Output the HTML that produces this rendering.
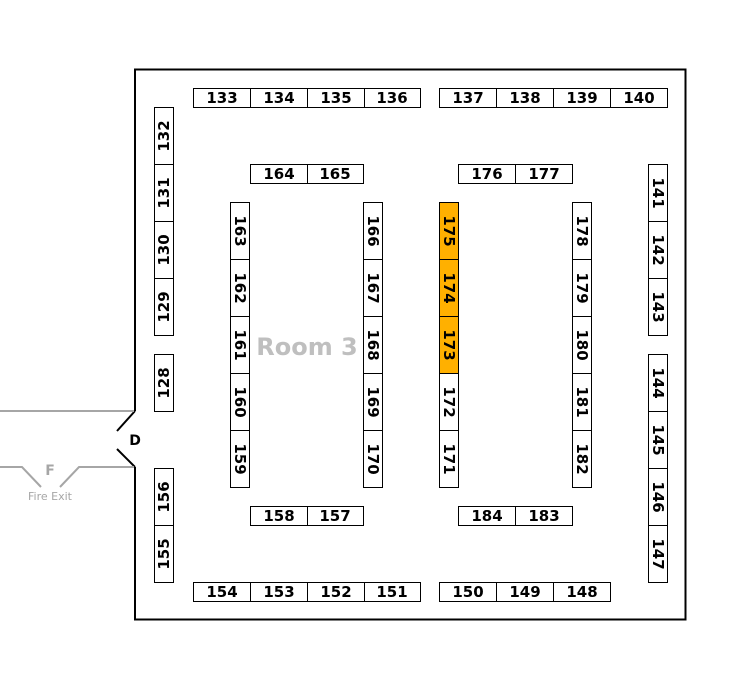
<!DOCTYPE html>
<html><head><meta charset="utf-8"><style>
html,body{margin:0;padding:0;background:#fff;width:755px;height:689px;overflow:hidden}
svg text{font-family:"DejaVu Sans","Liberation Sans",sans-serif;}
.b rect{fill:#fff;stroke:#000;stroke-width:1}
.b text{font-size:15px;font-weight:bold;fill:#000;text-anchor:middle;dominant-baseline:central}
.o rect{fill:#FFB000}
</style></head><body>
<svg width="755" height="689" viewBox="0 0 755 689" xmlns="http://www.w3.org/2000/svg">
<path d="M135 411 L135 69.5 L685.5 69.5 L685.5 619.5 L135 619.5 L135 467" fill="none" stroke="#000" stroke-width="2"/>
<path d="M135 411 L117 431 M117 449 L135 467" fill="none" stroke="#000" stroke-width="2"/>
<text x="135" y="445" font-size="14" font-weight="bold" text-anchor="middle">D</text>
<path d="M0 411 L134 411 M0 467 L22 467 L41 487 M60 487 L79 467 L134 467" fill="none" stroke="#a6a6a6" stroke-width="2"/>
<text x="50" y="475" font-size="14" font-weight="bold" fill="#a6a6a6" text-anchor="middle">F</text>
<text x="50" y="500" font-size="11" fill="#a6a6a6" text-anchor="middle">Fire Exit</text>
<text x="307" y="355" font-size="24" font-weight="bold" fill="#bfbfbf" text-anchor="middle">Room 3</text>
<g class="b">
<rect x="193.5" y="88.5" width="57" height="19"/><text x="222" y="98">133</text>
<rect x="250.5" y="88.5" width="57" height="19"/><text x="279" y="98">134</text>
<rect x="307.5" y="88.5" width="57" height="19"/><text x="336" y="98">135</text>
<rect x="364.5" y="88.5" width="56" height="19"/><text x="392" y="98">136</text>
<rect x="439.5" y="88.5" width="57" height="19"/><text x="468" y="98">137</text>
<rect x="496.5" y="88.5" width="57" height="19"/><text x="525" y="98">138</text>
<rect x="553.5" y="88.5" width="57" height="19"/><text x="582" y="98">139</text>
<rect x="610.5" y="88.5" width="57" height="19"/><text x="639" y="98">140</text>
<rect x="250.5" y="164.5" width="57" height="19"/><text x="279" y="174">164</text>
<rect x="307.5" y="164.5" width="56" height="19"/><text x="335" y="174">165</text>
<rect x="458.5" y="164.5" width="57" height="19"/><text x="487" y="174">176</text>
<rect x="515.5" y="164.5" width="57" height="19"/><text x="544" y="174">177</text>
<rect x="250.5" y="506.5" width="57" height="19"/><text x="279" y="516">158</text>
<rect x="307.5" y="506.5" width="56" height="19"/><text x="335" y="516">157</text>
<rect x="458.5" y="506.5" width="57" height="19"/><text x="487" y="516">184</text>
<rect x="515.5" y="506.5" width="57" height="19"/><text x="544" y="516">183</text>
<rect x="193.5" y="582.5" width="57" height="19"/><text x="222" y="592">154</text>
<rect x="250.5" y="582.5" width="57" height="19"/><text x="279" y="592">153</text>
<rect x="307.5" y="582.5" width="57" height="19"/><text x="336" y="592">152</text>
<rect x="364.5" y="582.5" width="56" height="19"/><text x="392" y="592">151</text>
<rect x="439.5" y="582.5" width="57" height="19"/><text x="468" y="592">150</text>
<rect x="496.5" y="582.5" width="57" height="19"/><text x="525" y="592">149</text>
<rect x="553.5" y="582.5" width="57" height="19"/><text x="582" y="592">148</text>
<rect x="154.5" y="107.5" width="19" height="57"/><text transform="translate(164,136) rotate(-90)">132</text>
<rect x="154.5" y="164.5" width="19" height="57"/><text transform="translate(164,193) rotate(-90)">131</text>
<rect x="154.5" y="221.5" width="19" height="57"/><text transform="translate(164,250) rotate(-90)">130</text>
<rect x="154.5" y="278.5" width="19" height="57"/><text transform="translate(164,307) rotate(-90)">129</text>
<rect x="154.5" y="354.5" width="19" height="57"/><text transform="translate(164,383) rotate(-90)">128</text>
<rect x="154.5" y="468.5" width="19" height="57"/><text transform="translate(164,497) rotate(-90)">156</text>
<rect x="154.5" y="525.5" width="19" height="57"/><text transform="translate(164,554) rotate(-90)">155</text>
<rect x="230.5" y="202.5" width="19" height="57"/><text transform="translate(240,231) rotate(90)">163</text>
<rect x="230.5" y="259.5" width="19" height="57"/><text transform="translate(240,288) rotate(90)">162</text>
<rect x="230.5" y="316.5" width="19" height="57"/><text transform="translate(240,345) rotate(90)">161</text>
<rect x="230.5" y="373.5" width="19" height="57"/><text transform="translate(240,402) rotate(90)">160</text>
<rect x="230.5" y="430.5" width="19" height="57"/><text transform="translate(240,459) rotate(90)">159</text>
<rect x="363.5" y="202.5" width="19" height="57"/><text transform="translate(373,231) rotate(90)">166</text>
<rect x="363.5" y="259.5" width="19" height="57"/><text transform="translate(373,288) rotate(90)">167</text>
<rect x="363.5" y="316.5" width="19" height="57"/><text transform="translate(373,345) rotate(90)">168</text>
<rect x="363.5" y="373.5" width="19" height="57"/><text transform="translate(373,402) rotate(90)">169</text>
<rect x="363.5" y="430.5" width="19" height="57"/><text transform="translate(373,459) rotate(90)">170</text>
<g class="o">
<rect x="439.5" y="202.5" width="19" height="57"/><text transform="translate(449,231) rotate(90)">175</text>
<rect x="439.5" y="259.5" width="19" height="57"/><text transform="translate(449,288) rotate(90)">174</text>
<rect x="439.5" y="316.5" width="19" height="57"/><text transform="translate(449,345) rotate(90)">173</text>
</g>
<rect x="439.5" y="373.5" width="19" height="57"/><text transform="translate(449,402) rotate(90)">172</text>
<rect x="439.5" y="430.5" width="19" height="57"/><text transform="translate(449,459) rotate(90)">171</text>
<rect x="572.5" y="202.5" width="19" height="57"/><text transform="translate(582,231) rotate(90)">178</text>
<rect x="572.5" y="259.5" width="19" height="57"/><text transform="translate(582,288) rotate(90)">179</text>
<rect x="572.5" y="316.5" width="19" height="57"/><text transform="translate(582,345) rotate(90)">180</text>
<rect x="572.5" y="373.5" width="19" height="57"/><text transform="translate(582,402) rotate(90)">181</text>
<rect x="572.5" y="430.5" width="19" height="57"/><text transform="translate(582,459) rotate(90)">182</text>
<rect x="648.5" y="164.5" width="19" height="57"/><text transform="translate(658,193) rotate(90)">141</text>
<rect x="648.5" y="221.5" width="19" height="57"/><text transform="translate(658,250) rotate(90)">142</text>
<rect x="648.5" y="278.5" width="19" height="57"/><text transform="translate(658,307) rotate(90)">143</text>
<rect x="648.5" y="354.5" width="19" height="57"/><text transform="translate(658,383) rotate(90)">144</text>
<rect x="648.5" y="411.5" width="19" height="57"/><text transform="translate(658,440) rotate(90)">145</text>
<rect x="648.5" y="468.5" width="19" height="57"/><text transform="translate(658,497) rotate(90)">146</text>
<rect x="648.5" y="525.5" width="19" height="57"/><text transform="translate(658,554) rotate(90)">147</text>
</g>
</svg>
</body></html>
